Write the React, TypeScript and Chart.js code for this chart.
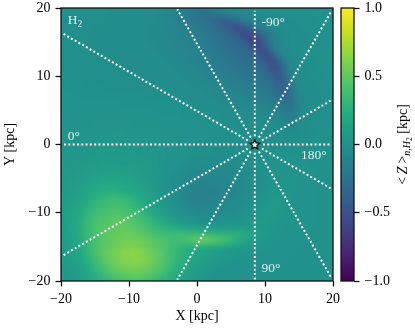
import React, { useEffect, useRef } from "react";
import { Chart, registerables } from "chart.js";

Chart.register(...registerables);

const SERIF = '"Liberation Serif", serif';
const xCenters = Array.from({ length: 41 }, (_, i) => -20 + i);
const yCenters = Array.from({ length: 41 }, (_, i) => 20 - i);

// <Z> in hundredths of a kpc; rows y = 20 .. -20, columns x = -20 .. 20
const zValues: number[][] = [
[-1,-1,-1,-1,-1,-1,-1,-2,-2,-2,-2,-3,-3,-4,-4,-6,-8,-11,-14,-16,-17,-17,-15,-12,-10,-8,-6,-5,-4,-3,-2,-2,-1,-1,-1,-1,0,0,0,0,0],
[-1,-1,-1,-1,-1,-1,-1,-2,-2,-2,-2,-3,-3,-4,-5,-7,-10,-13,-17,-20,-23,-26,-27,-25,-20,-15,-11,-8,-6,-4,-3,-2,-2,-1,-1,-1,-1,0,0,0,0],
[-1,-1,-1,-1,-1,-1,-2,-2,-2,-2,-3,-3,-4,-4,-6,-7,-9,-11,-14,-17,-21,-25,-31,-38,-45,-40,-30,-20,-13,-9,-6,-4,-3,-2,-2,-1,-1,-1,0,0,0],
[-1,-1,-1,-1,-1,-2,-2,-2,-2,-3,-3,-4,-4,-5,-6,-7,-9,-10,-12,-14,-17,-20,-24,-29,-36,-46,-54,-48,-35,-22,-13,-8,-5,-3,-2,-2,-1,-1,-1,0,0],
[-1,-1,-1,-1,-2,-2,-2,-2,-3,-3,-3,-4,-4,-5,-6,-7,-8,-9,-11,-13,-15,-18,-21,-25,-29,-34,-42,-54,-58,-46,-30,-17,-9,-5,-3,-2,-2,-1,-1,0,0],
[-1,-1,-1,-1,-2,-2,-2,-2,-3,-3,-3,-4,-4,-5,-5,-6,-7,-9,-10,-12,-14,-17,-20,-23,-26,-29,-33,-42,-60,-55,-36,-18,-9,-5,-3,-2,-2,-1,-1,-1,0],
[-1,-1,-1,-1,-1,-2,-2,-2,-3,-3,-3,-3,-4,-4,-5,-6,-7,-8,-9,-11,-13,-15,-18,-21,-24,-27,-29,-32,-38,-58,-47,-24,-11,-5,-3,-2,-1,-1,-1,0,0],
[-1,-1,-1,-1,-1,-2,-2,-2,-2,-3,-3,-3,-3,-4,-4,-5,-6,-7,-8,-10,-12,-14,-16,-19,-22,-25,-27,-29,-32,-40,-55,-46,-22,-9,-4,-2,-1,-1,0,0,0],
[-1,-1,-1,-1,-1,-1,-2,-2,-2,-2,-3,-3,-3,-3,-4,-4,-5,-6,-7,-9,-11,-13,-15,-17,-20,-22,-24,-26,-28,-32,-41,-53,-40,-17,-6,-3,-2,-1,0,0,0],
[0,-1,-1,-1,-1,-1,-1,-1,-2,-2,-2,-3,-3,-3,-3,-4,-4,-5,-6,-7,-9,-11,-13,-15,-18,-20,-22,-24,-25,-28,-33,-48,-46,-23,-8,-3,-2,-1,0,0,0],
[0,0,-1,-1,-1,-1,-1,-1,-1,-2,-2,-2,-2,-2,-3,-3,-4,-4,-5,-6,-7,-9,-11,-13,-15,-17,-19,-21,-22,-24,-27,-36,-46,-29,-10,-3,-2,-1,-1,0,0],
[0,0,0,0,-1,-1,-1,-1,-1,-1,-1,-2,-2,-2,-2,-2,-3,-3,-4,-5,-6,-7,-9,-10,-12,-14,-15,-17,-19,-21,-23,-28,-41,-36,-14,-5,-2,-2,-1,-1,0],
[0,0,0,0,0,0,0,-1,-1,-1,-1,-1,-1,-1,-1,-2,-2,-2,-3,-4,-5,-5,-6,-8,-9,-11,-12,-14,-16,-18,-20,-23,-33,-38,-18,-6,-3,-2,-2,-1,0],
[1,1,1,0,0,0,0,0,0,0,0,0,0,-1,-1,-1,-1,-1,-2,-3,-3,-4,-5,-6,-7,-8,-9,-11,-13,-15,-17,-19,-25,-34,-22,-8,-3,-2,-2,-1,-1],
[1,1,1,1,1,1,1,1,1,0,0,0,0,0,0,0,0,-1,-1,-2,-2,-3,-3,-4,-5,-6,-7,-8,-9,-11,-13,-15,-18,-28,-24,-9,-3,-2,-2,-1,-1],
[1,1,1,1,1,1,1,1,1,1,1,1,1,1,0,0,0,0,0,-1,-1,-2,-2,-2,-3,-4,-4,-5,-6,-7,-9,-10,-12,-20,-22,-9,-3,-2,-1,-1,-1],
[1,1,2,2,2,2,2,2,2,2,2,2,1,1,1,1,1,1,0,0,0,0,-1,-1,-2,-2,-3,-3,-4,-5,-6,-7,-8,-12,-16,-8,-3,-2,-1,-1,-1],
[2,2,2,2,2,3,3,3,3,3,3,2,2,2,2,2,1,1,1,1,1,0,0,0,-1,-1,-2,-2,-2,-3,-4,-4,-5,-7,-10,-5,-2,-1,-1,-1,0],
[2,2,2,3,3,3,3,3,4,4,3,3,3,3,3,2,2,2,1,1,1,1,0,0,0,-1,-1,-1,-2,-2,-3,-3,-4,-4,-5,-3,-2,-1,0,0,0],
[3,3,3,3,3,4,4,4,4,4,4,4,3,3,3,3,2,2,2,1,1,1,0,0,0,-1,-1,-1,-1,-1,-2,-2,-2,-2,-3,-2,-1,0,0,0,0],
[3,3,3,4,4,5,5,5,5,5,4,4,4,3,3,3,2,2,1,1,0,0,0,-1,-1,-1,-1,-1,0,0,-1,-1,-1,-1,-1,-1,0,0,0,0,0],
[3,4,4,4,5,5,6,6,6,6,6,5,5,4,4,3,2,2,1,0,0,-1,-1,-2,-2,-2,-2,-1,0,0,0,0,0,0,0,0,0,0,0,0,0],
[4,4,5,5,6,7,7,8,8,8,7,6,6,5,4,3,2,1,0,-1,-2,-2,-3,-3,-3,-3,-3,-2,-1,0,0,1,1,1,1,1,0,0,0,0,0],
[4,5,6,7,8,9,10,10,10,9,9,8,7,6,4,3,1,0,-1,-3,-4,-4,-4,-5,-5,-5,-4,-3,-2,-1,0,1,1,2,2,1,1,0,0,0,0],
[5,6,7,8,10,11,12,13,13,12,11,10,8,6,5,3,1,-1,-3,-5,-6,-6,-6,-7,-7,-6,-5,-4,-3,-1,0,1,2,2,2,2,1,1,0,0,0],
[6,7,8,10,12,14,16,16,16,15,14,12,10,7,5,3,0,-2,-5,-7,-8,-8,-8,-8,-8,-7,-6,-5,-3,-2,0,1,2,3,3,2,1,1,0,0,0],
[7,8,10,12,15,18,20,21,20,19,17,15,12,9,6,3,0,-3,-7,-10,-11,-11,-10,-10,-9,-8,-7,-5,-3,-1,1,2,3,4,3,2,2,1,0,0,0],
[7,9,11,14,18,22,25,26,26,24,21,18,15,11,7,3,0,-4,-8,-11,-12,-12,-11,-11,-10,-9,-7,-5,-3,-1,2,4,5,4,3,2,2,1,0,0,0],
[8,10,13,17,22,27,31,33,34,33,30,25,20,15,10,5,1,-3,-8,-10,-11,-11,-10,-9,-8,-6,-4,-3,-1,1,3,6,6,5,3,2,2,1,0,0,0],
[8,11,15,20,26,32,37,39,40,38,35,30,25,19,13,8,3,-1,-5,-8,-9,-9,-8,-7,-6,-4,-3,-1,0,2,5,7,6,4,3,2,1,1,0,0,0],
[9,12,17,23,30,36,40,42,43,43,40,36,30,24,17,12,7,3,0,-4,-6,-6,-5,-4,-3,-2,-1,0,2,4,7,7,5,4,3,2,1,1,0,0,0],
[9,13,18,25,33,40,44,45,47,48,46,42,37,31,24,18,13,9,6,2,-1,-2,-2,-1,0,1,2,3,5,7,8,6,4,3,2,2,1,1,0,0,0],
[9,13,19,26,34,41,46,48,50,50,48,46,42,37,32,27,23,19,15,11,8,6,5,4,4,5,6,7,8,9,8,5,3,2,2,1,1,0,0,0,0],
[9,13,18,26,34,41,46,49,52,53,53,51,47,43,39,36,35,35,35,33,31,29,28,27,27,26,25,22,17,11,7,4,3,2,1,1,1,0,0,0,0],
[8,12,17,25,33,41,46,50,53,56,57,56,54,50,46,43,40,39,40,44,50,54,52,47,40,33,26,19,12,7,4,3,2,2,1,1,1,0,0,0,0],
[8,11,16,23,31,40,46,50,54,58,60,60,57,53,48,44,38,33,28,25,24,22,20,18,15,12,9,7,5,3,3,2,2,1,1,1,0,0,0,0,0],
[7,10,15,22,30,39,47,54,59,63,65,65,62,57,51,45,38,32,26,21,17,14,11,9,7,5,4,3,3,2,2,2,1,1,1,0,0,0,0,0,0],
[6,9,13,19,27,36,44,51,57,61,63,64,62,57,51,45,37,30,24,18,13,10,7,5,4,3,2,2,2,1,1,1,1,1,0,0,0,0,0,0,0],
[5,7,11,16,23,31,39,46,52,56,58,58,57,53,48,42,34,27,21,15,10,7,5,3,2,2,1,1,1,1,1,1,0,0,0,0,0,0,0,0,0],
[4,6,9,13,19,26,33,40,46,49,51,52,50,47,42,36,29,23,17,12,8,5,3,2,2,1,1,1,1,0,0,0,0,0,0,0,0,0,0,0,0],
[3,5,7,10,15,21,27,32,37,40,42,43,41,38,34,29,24,18,13,9,6,4,2,2,1,1,1,0,0,0,0,0,0,0,0,0,0,0,0,0,0],
];

const viridisStops = ["#440154","#482475","#414487","#355f8d","#2a788e","#21918c","#22a884","#44bf70","#7ad151","#bddf26","#fde725"];

const sunX = [8.5];
const sunY = [0];
const spokeStartX = [7.3, 9.7, 8.5, 8.5, 7.46, 7.46, 9.54, 9.54, 7.9, 7.9, 9.1, 9.1];
const spokeStartY = [0, 0, 1.2, -1.2, 0.6, -0.6, 0.6, -0.6, 1.04, -1.04, 1.04, -1.04];
const spokeEndX = [-19.6, 19.6, 8.5, 8.5, -19.8, -19.8, 19.8, 19.8, -2.9, -2.9, 19.8, 19.8];
const spokeEndY = [0, 0, 19.6, -20, 16.3, -16.3, 6.5, -6.5, 19.8, -19.8, 19.6, -19.6];

const labelText = ["0°", "180°", "-90°", "90°"];
const labelX = [-19, 15.3, 9.5, 9.5];
const labelY = [0.6, -2.1, 17.4, -18.7];

const xTicks = [-20, -10, 0, 10, 20];
const yTicks = [-20, -10, 0, 10, 20];
const cbarTicks = [-1, -0.5, 0, 0.5, 1];

const hexToRgb = (h: string) => [parseInt(h.slice(1, 3), 16), parseInt(h.slice(3, 5), 16), parseInt(h.slice(5, 7), 16)];
const viridisRgb = viridisStops.map(hexToRgb);
function colourOf(v: number) {
  const t = Math.max(0, Math.min(1, (v + 1) / 2)) * 10;
  const i = Math.min(9, Math.floor(t));
  const f = t - i;
  return viridisRgb[i].map((c, k) => c + (viridisRgb[i + 1][k] - c) * f);
}

const heatPlugin = {
  id: "heat",
  beforeDatasetsDraw(chart: any) {
    const { ctx, chartArea: a, scales } = chart;
    const off = document.createElement("canvas");
    off.width = xCenters.length;
    off.height = yCenters.length;
    const oc = off.getContext("2d")!;
    const img = oc.createImageData(off.width, off.height);
    zValues.forEach((row, j) => {
      xCenters.forEach((_, i) => {
        const rgb = colourOf((row[i] ?? 0) / 100);
        const p = (j * off.width + i) * 4;
        img.data[p] = rgb[0];
        img.data[p + 1] = rgb[1];
        img.data[p + 2] = rgb[2];
        img.data[p + 3] = 255;
      });
    });
    oc.putImageData(img, 0, 0);
    const x0 = scales.x.getPixelForValue(-20.5);
    const x1 = scales.x.getPixelForValue(20.5);
    const y0 = scales.y.getPixelForValue(20.5);
    const y1 = scales.y.getPixelForValue(-20.5);
    ctx.save();
    ctx.beginPath();
    ctx.rect(a.left, a.top, a.width, a.height);
    ctx.clip();
    ctx.fillStyle = "#21918c";
    ctx.fillRect(a.left, a.top, a.width, a.height);
    ctx.imageSmoothingEnabled = true;
    ctx.imageSmoothingQuality = "high";
    ctx.filter = "blur(2px)";
    ctx.drawImage(off, x0, y0, x1 - x0, y1 - y0);
    ctx.filter = "none";
    ctx.restore();
  },
  afterDatasetsDraw(chart: any) {
    const { ctx, chartArea: a, scales } = chart;
    ctx.save();
    ctx.fillStyle = "rgba(255,255,255,0.85)";
    ctx.textAlign = "left";
    ctx.textBaseline = "alphabetic";
    ctx.font = `13.5px ${SERIF}`;
    labelText.forEach((t, i) => {
      ctx.fillText(t, scales.x.getPixelForValue(labelX[i]), scales.y.getPixelForValue(labelY[i]));
    });
    const hx = scales.x.getPixelForValue(-19);
    const hy = scales.y.getPixelForValue(17.7);
    ctx.fillText("H", hx, hy);
    const w = ctx.measureText("H").width;
    ctx.font = `9.5px ${SERIF}`;
    ctx.fillText("2", hx + w, hy + 3);
    ctx.strokeStyle = "#111";
    ctx.lineWidth = 1.3;
    ctx.strokeRect(a.left, a.top, a.width, a.height);
    ctx.restore();
  },
};

function starImage() {
  const c = document.createElement("canvas");
  c.width = 13;
  c.height = 13;
  const g = c.getContext("2d")!;
  g.beginPath();
  for (let i = 0; i < 10; i++) {
    const r = i % 2 === 0 ? 5 : 2.3;
    const an = -Math.PI / 2 + (i * Math.PI) / 5;
    const px = 6.5 + r * Math.cos(an);
    const py = 6.8 + r * Math.sin(an);
    if (i === 0) g.moveTo(px, py);
    else g.lineTo(px, py);
  }
  g.closePath();
  g.fillStyle = "#fff";
  g.fill();
  g.strokeStyle = "#000";
  g.lineWidth = 1.2;
  g.stroke();
  return c;
}

const cbarPlugin = {
  id: "cbar",
  beforeDatasetsDraw(chart: any) {
    const { ctx, chartArea: a } = chart;
    const grad = ctx.createLinearGradient(0, a.bottom, 0, a.top);
    viridisStops.forEach((c, i) => grad.addColorStop(i / (viridisStops.length - 1), c));
    ctx.save();
    ctx.fillStyle = grad;
    ctx.fillRect(a.left, a.top, a.width, a.height);
    ctx.strokeStyle = "#111";
    ctx.lineWidth = 1.3;
    ctx.strokeRect(a.left, a.top, a.width, a.height);
    ctx.translate(72, (a.top + a.bottom) / 2);
    ctx.rotate(-Math.PI / 2);
    ctx.fillStyle = "#000";
    ctx.textBaseline = "alphabetic";
    const segs: [string, string, number][] = [
      ["<", `14px ${SERIF}`, 0],
      ["\u2009", `14px ${SERIF}`, 0],
      ["Z", `italic 14px ${SERIF}`, 0],
      ["\u2009", `14px ${SERIF}`, 0],
      [">", `14px ${SERIF}`, 0],
      ["n,H", `italic 10px ${SERIF}`, 3],
      ["2", `7.5px ${SERIF}`, 5],
      [" [kpc]", `14px ${SERIF}`, 0],
    ];
    let total = 0;
    segs.forEach(([t, f]) => {
      ctx.font = f;
      total += ctx.measureText(t).width;
    });
    let cx = -total / 2;
    segs.forEach(([t, f, dy]) => {
      ctx.font = f;
      ctx.fillText(t, cx, dy);
      cx += ctx.measureText(t).width;
    });
    ctx.restore();
  },
};

const tickFmt = (v: any) => String(v).replace("-", "\u2212");
const gridOpts = { display: true, drawOnChartArea: false, drawTicks: true, tickLength: 5.5, tickColor: "#111", tickWidth: 1.3 };
const titleOpts = (text: string, padding: any) => ({ display: true, text, color: "#000", font: { family: SERIF, size: 14 }, padding });
const fixWidth = (s: any) => { s.width = 61; s.paddingTop = 0; s.paddingBottom = 0; };
const fixHeight = (s: any) => { s.height = 49; s.paddingLeft = 0; s.paddingRight = 0; };

export default function App() {
  const mainRef = useRef<HTMLCanvasElement>(null);
  const barRef = useRef<HTMLCanvasElement>(null);
  useEffect(() => {
    const datasets: any[] = spokeStartX.map((_, i) => ({
      type: "scatter",
      showLine: true,
      data: [
        { x: spokeStartX[i], y: spokeStartY[i] },
        { x: spokeEndX[i], y: spokeEndY[i] },
      ],
      borderColor: "#fff",
      borderWidth: 2,
      borderDash: [2, 2.3],
      pointRadius: 0,
      fill: false,
    }));
    datasets.push({
      type: "scatter",
      data: sunX.map((x, i) => ({ x, y: sunY[i] })),
      pointStyle: starImage(),
      pointRadius: 6,
    });
    const main = new Chart(mainRef.current!, {
      type: "scatter",
      data: { datasets },
      plugins: [heatPlugin],
      options: {
        animation: false,
        responsive: false,
        layout: { padding: { left: 0, right: 82, top: 8, bottom: 0 } },
        plugins: { legend: { display: false }, tooltip: { enabled: false } },
        scales: {
          x: {
            type: "linear",
            min: -20,
            max: 20,
            border: { display: false },
            grid: gridOpts,
            afterBuildTicks: (s: any) => { s.ticks = xTicks.map((value) => ({ value })); },
            afterFit: fixHeight,
            ticks: { color: "#000", font: { family: SERIF, size: 14 }, padding: 4, maxRotation: 0, callback: tickFmt },
            title: titleOpts("X [kpc]", { top: 2, bottom: 5 }),
          },
          y: {
            type: "linear",
            min: -20,
            max: 20,
            border: { display: false },
            grid: gridOpts,
            afterBuildTicks: (s: any) => { s.ticks = yTicks.map((value) => ({ value })); },
            afterFit: fixWidth,
            ticks: { color: "#000", font: { family: SERIF, size: 14 }, padding: 5, callback: tickFmt },
            title: titleOpts("Y [kpc]", { top: 2, bottom: 0 }),
          },
        },
      } as any,
    });
    const bar = new Chart(barRef.current!, {
      type: "scatter",
      data: { datasets: [{ data: cbarTicks.map((y) => ({ x: 0.5, y })), pointRadius: 0 }] },
      plugins: [cbarPlugin],
      options: {
        animation: false,
        responsive: false,
        layout: { padding: { left: 6, right: 0, top: 8, bottom: 49 } },
        plugins: { legend: { display: false }, tooltip: { enabled: false } },
        scales: {
          x: { type: "linear", display: false, min: 0, max: 1 },
          y: {
            type: "linear",
            position: "right",
            min: -1,
            max: 1,
            border: { display: false },
            grid: gridOpts,
            afterBuildTicks: (s: any) => { s.ticks = cbarTicks.map((value) => ({ value })); },
            afterFit: fixWidth,
            ticks: { color: "#000", font: { family: SERIF, size: 14 }, padding: 5, callback: (v: any) => Number(v).toFixed(1).replace("-", "\u2212") },
          },
        },
      } as any,
    });
    return () => {
      main.destroy();
      bar.destroy();
    };
  }, []);
  return (
    <div style={{ position: "fixed", left: 0, top: 0, width: 415, height: 330, background: "#fff" }}>
      <canvas ref={mainRef} width={415} height={330} style={{ position: "absolute", left: 0, top: 0 }} />
      <canvas ref={barRef} width={80} height={330} style={{ position: "absolute", left: 335, top: 0 }} />
    </div>
  );
}
